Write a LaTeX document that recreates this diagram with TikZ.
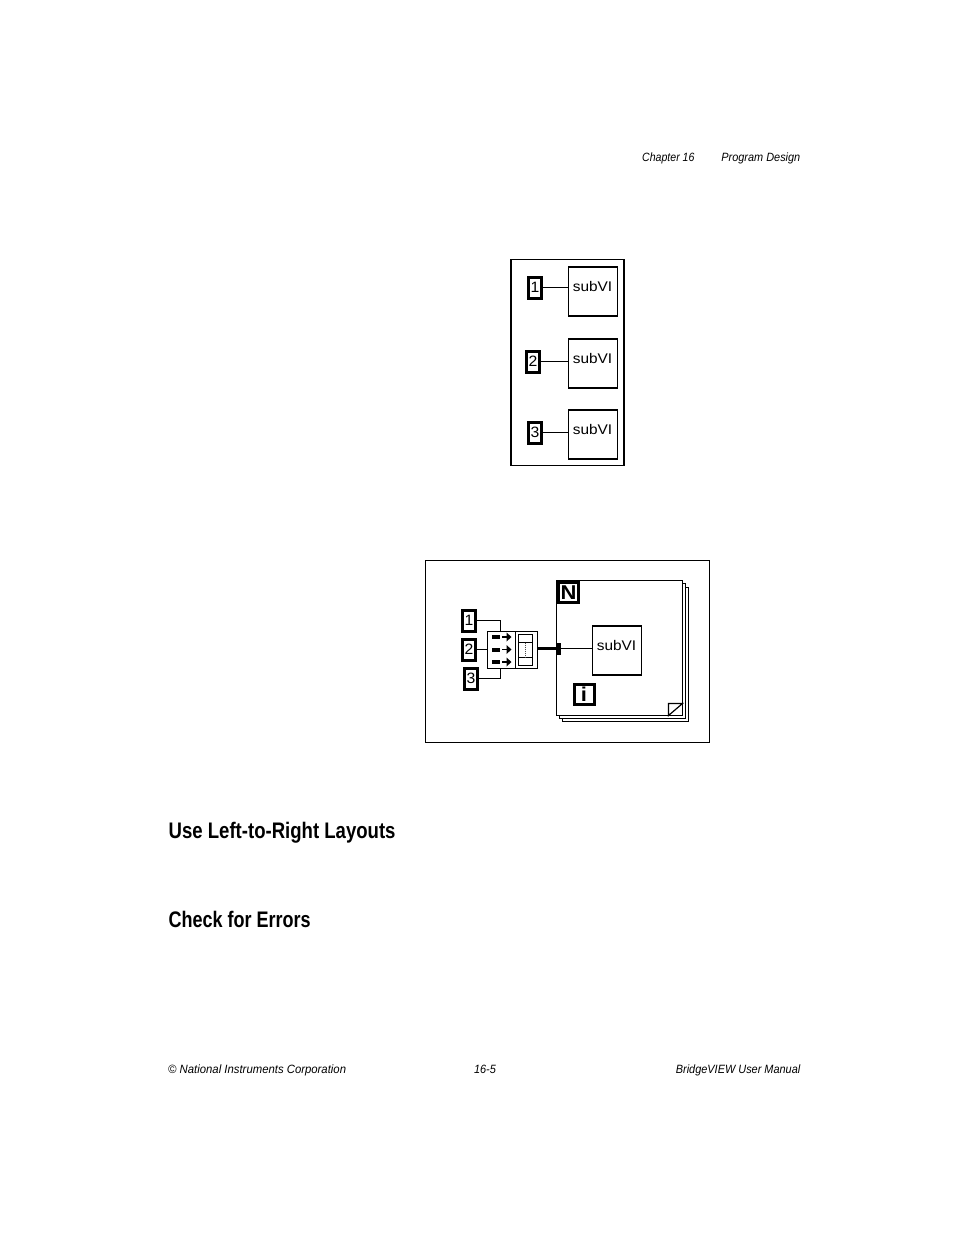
\documentclass[tikz,border=0pt]{standalone}
\usepackage{fontspec}
\setmainfont{Liberation Sans}
\newfontfamily\headfont[FakeStretch=0.8]{Liberation Sans Bold}
\newfontfamily\headwide[FakeStretch=0.825]{Liberation Sans Bold}
\newfontfamily\runital[FakeStretch=0.91]{Liberation Sans Italic}
\newfontfamily\runnarrow[FakeStretch=0.88]{Liberation Sans Italic}
\newfontfamily\runwide[FakeStretch=0.945]{Liberation Sans Italic}
\newfontfamily\pixfont[FakeStretch=1.1]{Liberation Sans}
\newfontfamily\digitfont[FakeStretch=1.05]{Liberation Sans}
\tikzset{
  numbox/.style={draw=black,line width=3pt,fill=white,inner sep=0pt,outer sep=0pt,
    minimum width=13pt,minimum height=21pt,font=\digitfont\fontsize{15}{15}\selectfont},
  loopbox/.style={draw=black,line width=3pt,fill=white,inner sep=0pt,outer sep=0pt,
    minimum width=20pt,minimum height=20pt,font=\pixfont\bfseries\fontsize{20}{20}\selectfont},
  subbox/.style={draw=black,line width=1.2pt,fill=white,inner sep=0pt,outer sep=0pt,
    minimum width=49pt,minimum height=49pt},
  subtext/.style={inner sep=0pt,font=\pixfont\fontsize{14}{14}\selectfont},
  wire/.style={draw=black,line width=1.2pt},
  page/.style={draw=black,line width=1.2pt,fill=white},
  bundlepart/.style={draw=black,line width=1.2pt,fill=white,inner sep=0pt,outer sep=0pt},
  head/.style={anchor=base west,inner sep=0pt,font=\fontsize{22.5}{24}\selectfont},
  run/.style={inner sep=0pt,font=\fontsize{12}{14}\selectfont},
}
\begin{document}
\begin{tikzpicture}[x=1pt,y=-1pt]
\useasboundingbox[fill=white] (0,0) rectangle (954,1235);
% header
\node[run,anchor=base west] (ch) at (642,161) {\runnarrow Chapter 16};
\node[run,anchor=base east] (pd) at (800.5,161) {\runital Program Design};
% first diagram
\node[draw=black,line width=1.5pt,fill=white,inner sep=0pt,minimum width=113pt,minimum height=206pt] (f1) at (567.5,362.5) {};
\node[subbox] (s1) at (593,291.5) {};
\node[subbox] (s2) at (593,363.5) {};
\node[subbox] (s3) at (593,434.5) {};
\node[subtext] (t1) at (592.5,286.5) {subVI};
\node[subtext] (t2) at (592.5,358.5) {subVI};
\node[subtext] (t3) at (592.5,429.5) {subVI};
\node[numbox] (a1) at (535,287.5) {1};
\node[numbox] (a2) at (533,361.5) {2};
\node[numbox] (a3) at (535,432.5) {3};
\draw[wire] (a1.east) -- (a1.east -| s1.west);
\draw[wire] (a2.east) -- (a2.east -| s2.west);
\draw[wire] (a3.east) -- (a3.east -| s3.west);
% second diagram
\node[draw=black,line width=1pt,fill=white,inner sep=0pt,minimum width=284pt,minimum height=182pt] (f2) at (567.5,651.5) {};
\draw[page] (562.5,587.5) rectangle (688.5,721.5);
\draw[page] (559.5,583.5) rectangle (685.5,718.5);
\node[page,inner sep=0pt,outer sep=0pt,minimum width=126pt,minimum height=135pt] (loop) at (619.5,648) {};
\coordinate (fa) at (668.5,715.5);
\coordinate (fb) at (668.5,703.5);
\coordinate (fc) at (682.5,703.5);
\draw[page] (fa) -- (fb) -- (fc) -- cycle;
\node[loopbox] (N) at (568.5,592.5) {N};
\node[loopbox] (I) at (584,694) {i};
\node[subbox] (s4) at (617,650.5) {};
\node[subtext] (t4) at (616.5,645) {subVI};
\node[numbox] (b1) at (469,620.5) {1};
\node[numbox] (b2) at (469,649.5) {2};
\node[numbox] (b3) at (471,678.5) {3};
\node[bundlepart,minimum width=28pt,minimum height=37pt] (bl) at (501.5,650) {};
\node[bundlepart,minimum width=22pt,minimum height=37pt] (br) at (526.5,650) {};
\node[bundlepart,minimum width=14pt,minimum height=31pt] (ar) at (525.5,650) {};
\node[bundlepart,line width=.9pt,minimum width=14pt,minimum height=8pt] (ar1) at (525.5,638.5) {};
\node[bundlepart,line width=.9pt,minimum width=14pt,minimum height=8pt] (ar2) at (525.5,661.5) {};
\draw[black!70,line width=1pt,dash pattern=on 1pt off 1pt] (ar1.south) -- (ar2.north);
\foreach \y in {637,649.5,662}{
  \fill (492,\y-2) rectangle (500,\y+2);
  \draw[line width=1.3pt] (502,\y) -- (509,\y);
  \fill (511.5,\y) -- (506.5,\y-4.5) -- (506.5,\y+4.5) -- cycle;
}
\coordinate (j1) at (500.5,620.5);
\coordinate (j3) at (500.5,678.5);
\draw[wire] (b1.east |- j1) -- (j1) -- (j1 |- bl.north);
\draw[wire] (b2.east) -- (b2.east -| bl.west);
\draw[wire] (b3.east |- j3) -- (j3) -- (j3 |- bl.south);
\node[fill=black,inner sep=0pt,outer sep=0pt,minimum width=4.5pt,minimum height=12pt] (tun) at (558.5,648.5) {};
\draw[black,line width=3pt] (br.east |- tun.center) -- (tun.center);
\draw[wire] (tun.center) -- (tun.center -| s4.west);
% headings
\node[head] (h1) at (168.5,838) {\headwide Use Left-to-Right Layouts};
\node[head] (h2) at (168.5,927) {\headfont Check for Errors};
% footer
\node[run,anchor=base west] (fl) at (168,1073) {\runwide © National Instruments Corporation};
\node[run,anchor=base] (fm) at (485,1073) {\runital 16-5};
\node[run,anchor=base east] (fr) at (800.5,1073) {\runital BridgeVIEW User Manual};
\end{tikzpicture}
\end{document}
